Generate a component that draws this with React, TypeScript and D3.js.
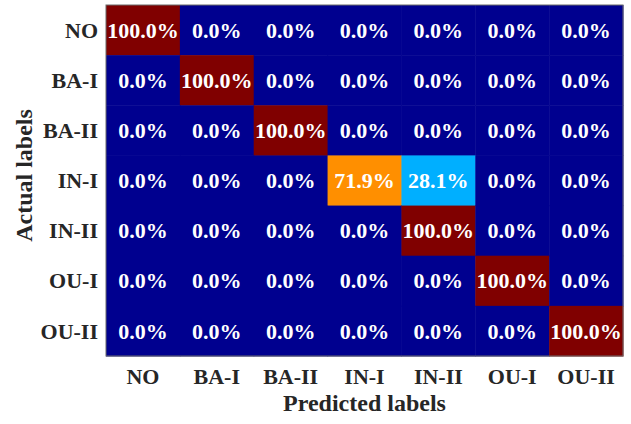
import React from "react";
import * as d3 from "d3";

// Class names, shared by both axes
const classes = ["NO", "BA-I", "BA-II", "IN-I", "IN-II", "OU-I", "OU-II"];

// Confusion matrix rows (actual) × columns (predicted), in percent
const rowNO = [100, 0, 0, 0, 0, 0, 0];
const rowBA1 = [0, 100, 0, 0, 0, 0, 0];
const rowBA2 = [0, 0, 100, 0, 0, 0, 0];
const rowIN1 = [0, 0, 0, 71.875, 28.125, 0, 0];
const rowIN2 = [0, 0, 0, 0, 100, 0, 0];
const rowOU1 = [0, 0, 0, 0, 0, 100, 0];
const rowOU2 = [0, 0, 0, 0, 0, 0, 100];
const matrix = [rowNO, rowBA1, rowBA2, rowIN1, rowIN2, rowOU1, rowOU2];

const xTitle = "Predicted labels";
const yTitle = "Actual labels";

const W = 631;
const H = 424;
const plot = { left: 106, right: 623, top: 5, bottom: 356 };
const FONT = "'Liberation Serif', 'Times New Roman', serif";

// 64-step jet colormap
function jet64(t: number): string {
  const i = Math.min(64, Math.floor(t * 64) + 1); // 1-based row
  const clamp = (v: number) => Math.max(0, Math.min(1, v));
  const ramp = (k: number) => {
    // trapezoid: rises over 16 rows, flat 16, falls 16
    if (k <= 0) return 0;
    if (k <= 16) return k / 16;
    if (k <= 32) return 1;
    if (k <= 48) return (48 - k) / 16;
    return 0;
  };
  const b = clamp(ramp(i + 8));
  const g = clamp(ramp(i - 8));
  const r = clamp(ramp(i - 24));
  return d3.rgb(Math.round(r * 255), Math.round(g * 255), Math.round(b * 255)).formatHex();
}

export default function App() {
  const x = d3.scaleBand<string>().domain(classes).range([plot.left, plot.right]);
  const y = d3.scaleBand<string>().domain(classes).range([plot.top, plot.bottom]);
  const color = d3.scaleLinear().domain([0, 100]).range([0, 1]).clamp(true);

  return (
    <svg
      width={W}
      height={H}
      style={{ position: "absolute", left: 0, top: 0, background: "#fff" }}
      fontFamily={FONT}
      fontWeight="bold"
    >
      {matrix.map((row, ri) =>
        row.map((v, ci) => (
          <rect
            key={`c${ri}-${ci}`}
            x={x(classes[ci])}
            y={y(classes[ri])}
            width={x.bandwidth() + 0.5}
            height={y.bandwidth() + 0.5}
            fill={jet64(color(v))}
          />
        ))
      )}
      {matrix.map((row, ri) =>
        row.map((v, ci) => (
          <text
            key={`t${ri}-${ci}`}
            x={(x(classes[ci]) as number) + x.bandwidth() / 2}
            y={(y(classes[ri]) as number) + y.bandwidth() / 2}
            dy="0.35em"
            textAnchor="middle"
            fontSize={22}
            fill="#fff"
          >
            {`${v.toFixed(1)}%`}
          </text>
        ))
      )}
      <rect
        x={plot.left}
        y={plot.top}
        width={plot.right - plot.left}
        height={plot.bottom - plot.top}
        fill="none"
        stroke="#6b6b6b"
        strokeWidth={1}
      />
      {classes.map((c) => (
        <text
          key={`xt${c}`}
          x={(x(c) as number) + x.bandwidth() / 2}
          y={384}
          textAnchor="middle"
          fontSize={22}
          fill="#262626"
        >
          {c}
        </text>
      ))}
      {classes.map((c) => (
        <text
          key={`yt${c}`}
          x={98}
          y={(y(c) as number) + y.bandwidth() / 2}
          dy="0.35em"
          textAnchor="end"
          fontSize={22}
          fill="#262626"
        >
          {c}
        </text>
      ))}
      <text
        x={(plot.left + plot.right) / 2}
        y={411}
        textAnchor="middle"
        fontSize={24}
        fill="#262626"
      >
        {xTitle}
      </text>
      <text
        transform={`translate(32, ${(plot.top + plot.bottom) / 2 - 5}) rotate(-90)`}
        textAnchor="middle"
        fontSize={24}
        fill="#262626"
      >
        {yTitle}
      </text>
    </svg>
  );
}
